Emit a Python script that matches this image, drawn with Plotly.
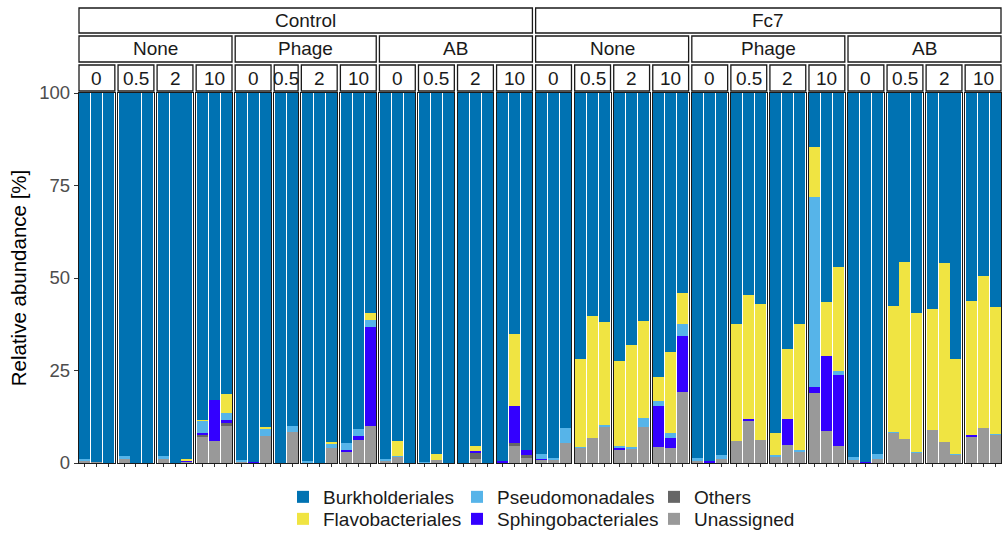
import plotly.graph_objects as go
from plotly.subplots import make_subplots

# ---------------- data ----------------
treatments = ["Control", "Fc7"]
subgroups = ["None", "Phage", "AB"]
concentrations = ["0", "0.5", "2", "10"]
# number of replicate bars in each panel (treatment > subgroup > concentration)
replicates = [3, 3, 3, 3, 3, 2, 3, 3, 3, 3, 3, 3,
              3, 3, 3, 3, 3, 3, 3, 3, 3, 3, 3, 3]

unassigned = [
    0.6, 0.2, 0.1,   1.0, 0.1, 0.1,   1.0, 0.1, 0.3,   7.2, 5.9, 10.0,
    0.3, 0.1, 7.4,   0.1, 8.5,        0.2, 0.1, 4.1,   3.0, 6.2, 10.0,
    0.6, 1.7, 0.1,   0.2, 0.8, 0.1,   0.1, 1.2, 0.1,   0.2, 4.6, 1.4,
    1.0, 0.7, 5.3,   4.2, 6.7, 9.6,   3.5, 4.0, 9.8,   4.4, 4.1, 19.1,
    0.6, 0.1, 1.0,   6.0, 11.6, 6.2,  1.5, 4.9, 3.0,   18.8, 8.6, 4.6,
    0.7, 0.1, 1.1,   8.2, 6.4, 2.8,   8.9, 5.7, 2.2,   7.2, 9.5, 7.6]
others = [
    0, 0, 0,   0, 0, 0,   0, 0, 0,   0.3, 0, 0.7,
    0, 0, 0,   0, 0,      0, 0, 0,   0.2, 0, 0,
    0, 0, 0,   0, 0, 0,   0, 1.7, 0, 0, 0.9, 0.8,
    0, 0, 0,   0, 0, 0,   0, 0, 0,   0, 0, 0,
    0, 0, 0,   0, 0, 0,   0, 0, 0,   0, 0, 0,
    0, 0, 0,   0, 0, 0,   0, 0, 0,   0, 0, 0]
sphingobacteriales = [
    0, 0, 0,   0, 0, 0,   0, 0, 0.2,   0.7, 11.1, 0.9,
    0, 0.3, 0, 0, 0,      0, 0, 0,     0.3, 1.1, 26.7,
    0, 0, 0,   0, 0, 0,   0, 0.4, 0,   0.4, 9.9, 1.2,
    0.2, 0, 0, 0, 0, 0,   0.6, 0, 0,   11.1, 2.6, 15.3,
    0, 0.4, 0, 0, 0.2, 0, 0, 6.9, 0,   1.8, 20.4, 19.2,
    0, 0.2, 0, 0, 0, 0,   0, 0, 0,     0.3, 0, 0]
pseudomonadales = [
    0.5, 0, 0,   0.8, 0, 0,   0.9, 0, 0,   3.2, 0, 2.0,
    0.5, 0, 1.9, 0, 1.5,      0.4, 0, 1.3, 1.9, 1.8, 1.9,
    0.6, 0.3, 0, 0.2, 0, 0,   0, 0, 0,     0, 0, 0,
    1.2, 0.6, 4.1, 0.2, 0, 0.8, 0.4, 0.3, 2.3, 1.3, 1.3, 3.2,
    0.7, 0, 1.2, 0, 0, 0,     0.7, 0, 0.4, 51.2, 0, 1.2,
    0.8, 0, 1.3, 0.2, 0, 0.3, 0, 0, 0.3,   0, 0, 0.3]
flavobacteriales = [
    0, 0, 0,   0, 0, 0,   0, 0, 0.6,   0.3, 0, 5.0,
    0, 0, 0.4, 0, 0,      0, 0, 0.4,   0, 0, 2.0,
    0, 4.0, 0, 0, 1.5, 0, 0, 1.2, 0,   0, 19.5, 0,
    0, 0, 0,   23.6, 33.0, 27.6, 23.1, 27.6, 26.3, 6.5, 21.9, 8.4,
    0, 0, 0,   31.6, 33.6, 36.7, 6.0, 19.0, 34.2, 13.7, 14.4, 27.9,
    0, 0, 0,   33.9, 47.9, 37.4, 32.8, 48.4, 25.5, 36.4, 41.0, 34.2]
burkholderiales = [
    98.9, 99.8, 99.9,   98.2, 99.9, 99.9,   98.1, 99.9, 98.9,   88.3, 83.0, 81.4,
    99.2, 99.6, 90.3,   99.9, 90.0,         99.4, 99.9, 94.2,   94.6, 90.9, 59.4,
    98.8, 94.0, 99.9,   99.6, 97.7, 99.9,   99.9, 95.5, 99.9,   99.4, 65.1, 96.6,
    97.6, 98.7, 90.6,   72.0, 60.3, 62.0,   72.4, 68.1, 61.6,   76.7, 70.1, 54.0,
    98.7, 99.5, 97.8,   62.4, 54.6, 57.1,   91.8, 69.2, 62.4,   14.5, 56.6, 47.1,
    98.5, 99.7, 97.6,   57.7, 45.7, 59.5,   58.3, 45.9, 72.0,   56.1, 49.5, 57.9]

y_ticks = [0, 25, 50, 75, 100]

# ---------------- styling ----------------
FONT = "Liberation Sans, Arial, sans-serif"
W, H = 1002, 534
ML, MR, MT, MB = 79, 1, 93, 71
plot_w = W - ML - MR
plot_h = H - MT - MB

# (name, values, colour, legend id, legend left px, legend top px) bottom -> top
series = [
    ("Unassigned", unassigned, "#999999", "legend6", 654, 500),
    ("Others", others, "#666666", "legend5", 654, 478),
    ("Sphingobacteriales", sphingobacteriales, "#3300FF", "legend4", 457, 500),
    ("Pseudomonadales", pseudomonadales, "#56B4E9", "legend3", 457, 478),
    ("Flavobacteriales", flavobacteriales, "#F0E442", "legend2", 283, 500),
    ("Burkholderiales", burkholderiales, "#0072B2", "legend", 283, 478),
]

n_panels = len(replicates)
fig = make_subplots(rows=1, cols=n_panels, column_widths=replicates,
                    horizontal_spacing=3.2 / plot_w, shared_yaxes=True)

starts = []
s = 0
for r in replicates:
    starts.append(s)
    s += r

for name, vals, color, leg, _, _ in series:
    for p in range(n_panels):
        n = replicates[p]
        seg = vals[starts[p]:starts[p] + n]
        fig.add_trace(go.Bar(
            x=list(range(1, n + 1)), y=seg, name=name,
            marker=dict(color=color, line=dict(width=0)),
            legendgroup=name, showlegend=(p == 0), legend=leg,
            hoverinfo="skip"), row=1, col=p + 1)

for p in range(n_panels):
    n = replicates[p]
    fig.update_xaxes(range=[0.5, n + 0.5], tickvals=list(range(1, n + 1)),
                     showticklabels=False, ticks="outside", ticklen=3,
                     tickcolor="#333333", tickwidth=1,
                     showline=True, mirror=True, linecolor="#1a1a1a",
                     linewidth=1.4, showgrid=False, zeroline=False,
                     row=1, col=p + 1)
    fig.update_yaxes(range=[0, 100], showline=True, mirror=True,
                     linecolor="#1a1a1a", linewidth=1.4, showgrid=False,
                     zeroline=False, row=1, col=p + 1,
                     showticklabels=(p == 0),
                     ticks="outside" if p == 0 else "",
                     tickvals=y_ticks, ticklen=4, tickcolor="#333333")

fig.update_yaxes(tickfont=dict(size=18.5, color="#4D4D4D", family=FONT),
                 title=dict(text="Relative abundance [%]",
                            font=dict(size=20.5, color="black", family=FONT),
                            standoff=7), row=1, col=1)

# ---------------- nested facet strips ----------------
def dom(p):
    key = "xaxis" if p == 0 else f"xaxis{p + 1}"
    return fig.layout[key].domain

def py(pix):
    return (H - MB - pix) / plot_h

rows = [(py(33), py(8)), (py(62), py(36)), (py(91), py(65))]

def strip(p0, p1, label, row):
    x0 = dom(p0)[0]
    x1 = dom(p1)[1]
    y0, y1 = rows[row]
    fig.add_shape(type="rect", xref="paper", yref="paper", x0=x0, x1=x1,
                  y0=y0, y1=y1, fillcolor="white",
                  line=dict(color="#1a1a1a", width=1.3))
    fig.add_annotation(xref="paper", yref="paper", x=(x0 + x1) / 2,
                       y=(y0 + y1) / 2, text=label, showarrow=False,
                       font=dict(size=19, color="#1a1a1a", family=FONT),
                       xanchor="center", yanchor="middle")

nc = len(concentrations)
ns = len(subgroups)
for ti, t in enumerate(treatments):
    base_t = ti * ns * nc
    strip(base_t, base_t + ns * nc - 1, t, 0)
    for si, sg in enumerate(subgroups):
        base_s = base_t + si * nc
        strip(base_s, base_s + nc - 1, sg, 1)
        for ci, c in enumerate(concentrations):
            strip(base_s + ci, base_s + ci, c, 2)

# ---------------- legends (one per key, ggplot-like 3x2 grid) ----------------
lx = lambda pix: (pix - ML) / plot_w
legends = {}
for name, _, _, leg, lxp, lyp in series:
    legends[leg] = dict(orientation="v", yanchor="top", xanchor="left",
                        x=lx(lxp), y=py(lyp),
                        font=dict(size=19, color="#1a1a1a", family=FONT),
                        bgcolor="rgba(0,0,0,0)", itemclick=False,
                        itemdoubleclick=False)
fig.update_layout(**legends)

fig.update_layout(
    barmode="stack", bargap=0.08,
    width=W, height=H,
    margin=dict(l=ML, r=MR, t=MT, b=MB, pad=0, autoexpand=False),
    paper_bgcolor="white", plot_bgcolor="white",
    font=dict(family=FONT),
)

fig.write_html("out.html", config={"displayModeBar": False},
               post_script="document.body.style.margin='0px';"
                           "document.body.style.overflow='hidden';")
